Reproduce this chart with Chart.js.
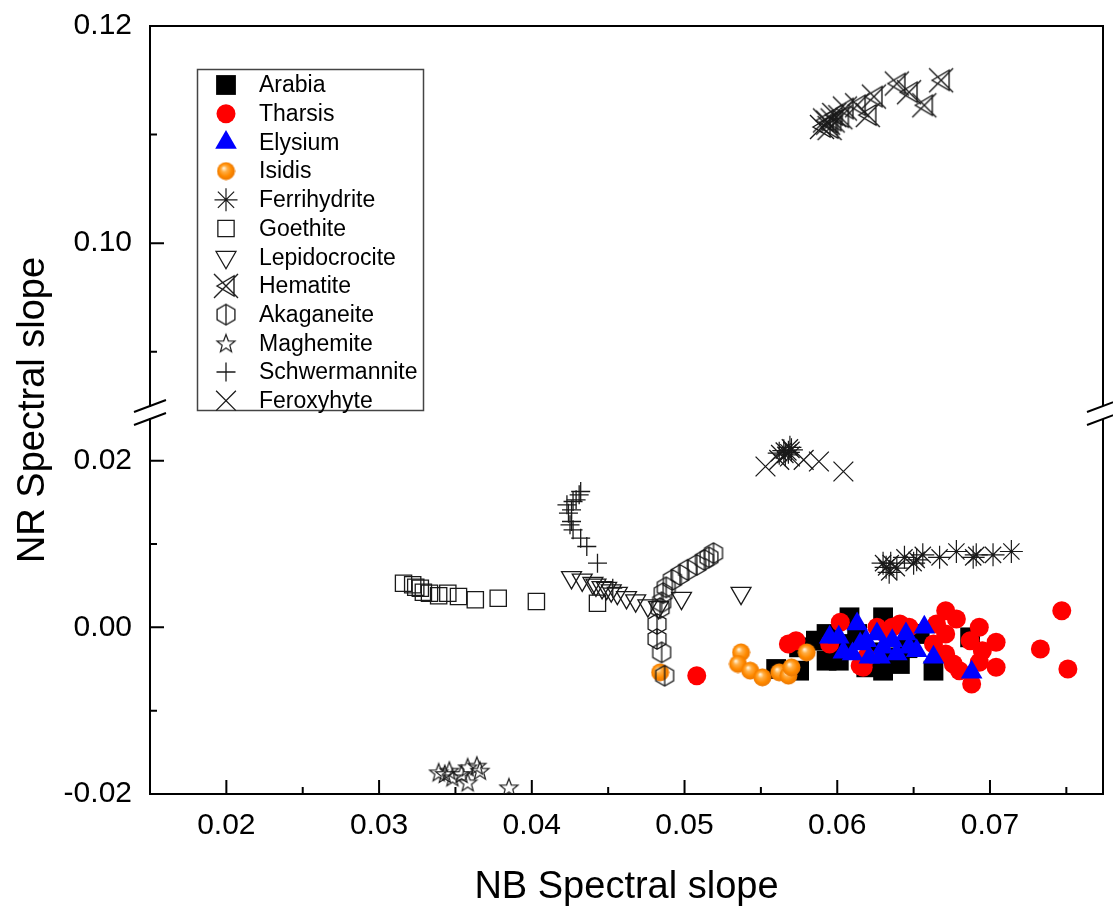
<!DOCTYPE html>
<html>
<head>
<meta charset="utf-8">
<script src="https://cdn.jsdelivr.net/npm/chart.js@4/dist/chart.umd.min.js"></script>
<style>
html,body{margin:0;padding:0;background:#fff;}
#wrap{width:1113px;height:907px;position:relative;}
</style>
</head>
<body>
<div id="wrap"><canvas id="c" width="1113" height="907"></canvas></div>
<script>
// ---------- data ----------
const seriesNames = ['Arabia','Tharsis','Elysium','Isidis','Ferrihydrite','Goethite','Lepidocrocite','Hematite','Akaganeite','Maghemite','Schwermannite','Feroxyhyte'];

const arabiaX = [0.0575,0.0560,0.0575,0.0593,0.0593,0.0608,0.0630,0.0601,0.0619,0.0630,0.0641,0.0663,0.0687,0.0654,0.0613,0.0586,0.0634,0.0605,0.0622,0.0646];
const arabiaY = [-0.0024,-0.0050,-0.0052,-0.0008,-0.0040,0.0012,0.0012,-0.0040,-0.0048,-0.0052,-0.0044,-0.0052,-0.0012,-0.0008,-0.0008,-0.0016,-0.0036,-0.0020,-0.0030,-0.0025];

const tharsisX = [0.0508,0.0568,0.0573,0.0602,0.0595,0.0615,0.0626,0.0641,0.0647,0.0671,0.0678,0.0665,0.0693,0.0704,0.0687,0.0671,0.0676,0.0693,0.0704,0.0688,0.0680,0.0747,0.0733,0.0751,0.0663,0.0695,0.0636,0.0630,0.0617,0.0619,0.0671];
const tharsisY = [-0.0058,-0.0020,-0.0016,0.0006,-0.0020,-0.0046,0.0000,0.0004,0.0000,0.0020,0.0010,0.0004,0.0000,-0.0018,-0.0016,-0.0032,-0.0044,-0.0042,-0.0048,-0.0068,-0.0052,0.0020,-0.0026,-0.0050,-0.0020,-0.0028,0.0000,-0.0006,-0.0048,-0.0036,-0.0008];

const elysiumX = [0.0595,0.0601,0.0613,0.0604,0.0610,0.0619,0.0626,0.0621,0.0630,0.0636,0.0645,0.0647,0.0657,0.0652,0.0663,0.0688,0.0628,0.0639,0.0615];
const elysiumY = [-0.0012,-0.0012,0.0004,-0.0030,-0.0032,-0.0016,-0.0008,-0.0036,-0.0024,-0.0016,-0.0008,-0.0024,0.0000,-0.0028,-0.0036,-0.0054,-0.0036,-0.0032,-0.0020];

const isidisX = [0.0484,0.0537,0.0535,0.0543,0.0551,0.0562,0.0568,0.0570,0.0580];
const isidisY = [-0.0054,-0.0030,-0.0044,-0.0052,-0.0060,-0.0054,-0.0058,-0.0048,-0.0030];

const ferriX = [0.0562,0.0565,0.0568,0.0570,0.0566,0.0569,0.0632,0.0635,0.0639,0.0644,0.0652,0.0656,0.0667,0.0678,0.0691,0.0702,0.0714,0.0634,0.0630,0.0650,0.0689];
const ferriY = [0.0209,0.0212,0.0210,0.0213,0.0207,0.0216,0.0072,0.0077,0.0071,0.0084,0.0081,0.0087,0.0084,0.0091,0.0087,0.0087,0.0091,0.0066,0.0077,0.0077,0.0084];

const goethiteX = [0.0316,0.0322,0.0324,0.0327,0.0329,0.0333,0.0339,0.0345,0.0352,0.0363,0.0378,0.0403,0.0443];
const goethiteY = [0.0053,0.0051,0.0048,0.0047,0.0042,0.0041,0.0038,0.0041,0.0037,0.0033,0.0035,0.0031,0.0029];

const lepidoX = [0.0426,0.0433,0.0440,0.0442,0.0446,0.0449,0.0452,0.0456,0.0462,0.0468,0.0476,0.0483,0.0498,0.0537];
const lepidoY = [0.0060,0.0057,0.0053,0.0051,0.0048,0.0047,0.0044,0.0041,0.0036,0.0032,0.0026,0.0024,0.0035,0.0041];

const hematiteX = [0.0668,0.0657,0.0647,0.0639,0.0624,0.0620,0.0613,0.0605,0.0598,0.0594,0.0590,0.0597,0.0602,0.0592,0.0595];
const hematiteY = [0.1150,0.1127,0.1139,0.1147,0.1135,0.1118,0.1127,0.1124,0.1118,0.1111,0.1107,0.1113,0.1116,0.1113,0.1106];

const akaX = [0.0519,0.0516,0.0513,0.0508,0.0502,0.0497,0.0492,0.0488,0.0486,0.0485,0.0484,0.0482,0.0482,0.0485,0.0487];
const akaY = [0.0089,0.0084,0.0081,0.0075,0.0069,0.0063,0.0057,0.0048,0.0041,0.0030,0.0023,0.0004,-0.0014,-0.0030,-0.0058];

const maghX = [0.0339,0.0343,0.0348,0.0354,0.0358,0.0364,0.0366,0.0358,0.0385,0.0346];
const maghY = [-0.0174,-0.0176,-0.0180,-0.0176,-0.0168,-0.0166,-0.0172,-0.0186,-0.0192,-0.0172];

const schwX = [0.0432,0.0431,0.0429,0.0427,0.0423,0.0426,0.0424,0.0426,0.0425,0.0427,0.0432,0.0436,0.0443,0.0453];
const schwY = [0.0163,0.0159,0.0153,0.0151,0.0147,0.0141,0.0137,0.0127,0.0123,0.0117,0.0107,0.0097,0.0077,0.0047];

const feroxX = [0.0553,0.0562,0.0569,0.0578,0.0588,0.0604];
const feroxY = [0.0193,0.0201,0.0205,0.0201,0.0199,0.0187];

// tick values
const xMajorTicks = [0.02,0.03,0.04,0.05,0.06,0.07];
const xMinorTicks = [0.025,0.035,0.045,0.055,0.065,0.075];
const yLowMajorTicks = [-0.02,0.00,0.02];
const yLowMinorTicks = [-0.01,0.01];
const yTopMajorTicks = [0.10,0.12];
const yTopMinorTicks = [0.09,0.11];

// ---------- styling helpers ----------
const FONT = "'Liberation Sans', Arial, Helvetica, sans-serif";
const INK = '#1a1a1a';

function makeCanvas(size, fn){
  const c = document.createElement('canvas');
  c.width = size; c.height = size;
  const g = c.getContext('2d');
  fn(g, size);
  return c;
}
const sphereImg = makeCanvas(19, (g,s)=>{
  const gr = g.createRadialGradient(s*0.38, s*0.34, 0.5, s/2, s/2, s/2);
  gr.addColorStop(0, '#fff2d9');
  gr.addColorStop(0.28, '#ffae45');
  gr.addColorStop(0.65, '#ff8a00');
  gr.addColorStop(1, '#e87400');
  g.fillStyle = gr;
  g.beginPath(); g.arc(s/2, s/2, s/2-0.5, 0, Math.PI*2); g.fill();
});
const hematiteImg = makeCanvas(28, (g,s)=>{
  g.strokeStyle = INK; g.lineWidth = 1.4;
  g.beginPath();
  g.moveTo(2,2); g.lineTo(26,26);
  g.moveTo(26,2); g.lineTo(2,26);
  g.moveTo(5,14); g.lineTo(22,4); g.lineTo(22,24); g.closePath();
  g.stroke();
});
const hexImg = makeCanvas(24, (g,s)=>{
  g.strokeStyle = INK; g.lineWidth = 1.3;
  const cx = s/2, cy = s/2, r = 10.3;
  g.beginPath();
  for (let k=0;k<6;k++){
    const a = -Math.PI/2 + k*Math.PI/3;
    const px = cx + r*Math.cos(a), py = cy + r*Math.sin(a);
    if (k===0) g.moveTo(px,py); else g.lineTo(px,py);
  }
  g.closePath();
  g.moveTo(cx, cy-r); g.lineTo(cx, cy+r);
  g.stroke();
});
const starImg = makeCanvas(22, (g,s)=>{
  g.strokeStyle = INK; g.lineWidth = 1.2;
  const cx = s/2, cy = s/2+0.8, ro = 9.5, ri = 4;
  g.beginPath();
  for (let k=0;k<10;k++){
    const a = -Math.PI/2 + k*Math.PI/5;
    const r = (k%2===0)? ro : ri;
    const px = cx + r*Math.cos(a), py = cy + r*Math.sin(a);
    if (k===0) g.moveTo(px,py); else g.lineTo(px,py);
  }
  g.closePath();
  g.stroke();
});

const pts = (xs, ys) => xs.map((v,i)=>({x:v, y:ys[i]}));
const CLEAR = 'rgba(0,0,0,0)';

const styles = [
  {data:pts(arabiaX,arabiaY),   axis:'y', pointStyle:'rect',     radius:14,  bg:'#000000', bc:'#000000', bw:0},
  {data:pts(tharsisX,tharsisY), axis:'y', pointStyle:'circle',   radius:9.5, bg:'#ff0000', bc:'#ff0000', bw:0},
  {data:pts(elysiumX,elysiumY), axis:'y', pointStyle:'triangle', radius:12.5,bg:'#0000ff', bc:'#0000ff', bw:0},
  {data:pts(isidisX,isidisY),   axis:'y', pointStyle:sphereImg,  radius:9,   bg:'#ff8a00', bc:'#ff8a00', bw:0},
  {data:pts(ferriX,ferriY),     axis:'y', pointStyle:'star',     radius:11.5,bg:CLEAR, bc:INK, bw:1.2},
  {data:pts(goethiteX,goethiteY), axis:'y', pointStyle:'rect',   radius:11.5,bg:CLEAR, bc:INK, bw:1.3},
  {data:pts(lepidoX,lepidoY),   axis:'y', pointStyle:'triangle', radius:11.5,bg:CLEAR, bc:INK, bw:1.3, rot:180},
  {data:pts(hematiteX,hematiteY), axis:'yTop', pointStyle:hematiteImg, radius:13, bg:CLEAR, bc:INK, bw:1.3},
  {data:pts(akaX,akaY),         axis:'y', pointStyle:hexImg,     radius:11,  bg:CLEAR, bc:INK, bw:1.3},
  {data:pts(maghX,maghY),       axis:'y', pointStyle:starImg,    radius:10,  bg:CLEAR, bc:INK, bw:1.2},
  {data:pts(schwX,schwY),       axis:'y', pointStyle:'cross',    radius:9.5, bg:CLEAR, bc:INK, bw:1.3},
  {data:pts(feroxX,feroxY),     axis:'y', pointStyle:'crossRot', radius:14,  bg:CLEAR, bc:INK, bw:1.3}
];

const datasets = styles.map((s,i)=>({
  label: seriesNames[i],
  data: s.data,
  yAxisID: s.axis,
  xAxisID: 'x',
  showLine: false,
  pointStyle: s.pointStyle,
  pointRadius: s.radius,
  pointHoverRadius: s.radius,
  pointBackgroundColor: s.bg,
  pointBorderColor: s.bc,
  pointBorderWidth: s.bw,
  pointRotation: s.rot || 0,
  order: -i
}));

const fmt = v => (Math.abs(v) < 1e-9 ? 0 : v).toFixed(2);

const decor = {
  id: 'decor',
  afterDraw(chart){
    const ctx = chart.ctx;
    const xs = chart.scales.x, yt = chart.scales.yTop, yb = chart.scales.y;
    const {left:L, right:R, top:T, bottom:B} = chart.chartArea;
    ctx.save();
    ctx.strokeStyle = '#000';
    ctx.lineWidth = 2;
    ctx.lineCap = 'butt';
    // top and right frame
    ctx.beginPath();
    ctx.moveTo(L-1, T); ctx.lineTo(R+1, T);
    ctx.moveTo(R, T); ctx.lineTo(R, yt.bottom);
    ctx.moveTo(R, yb.top); ctx.lineTo(R, B+1);
    ctx.stroke();
    // inward tick marks
    ctx.beginPath();
    xMajorTicks.forEach(v=>{const p=xs.getPixelForValue(v); ctx.moveTo(p,B); ctx.lineTo(p,B-14);});
    xMinorTicks.forEach(v=>{const p=xs.getPixelForValue(v); if(p<R-2){ctx.moveTo(p,B); ctx.lineTo(p,B-7);}});
    yLowMajorTicks.forEach(v=>{const p=yb.getPixelForValue(v); ctx.moveTo(L,p); ctx.lineTo(L+14,p);});
    yLowMinorTicks.forEach(v=>{const p=yb.getPixelForValue(v); ctx.moveTo(L,p); ctx.lineTo(L+7,p);});
    yTopMajorTicks.forEach(v=>{const p=yt.getPixelForValue(v); ctx.moveTo(L,p); ctx.lineTo(L+14,p);});
    yTopMinorTicks.forEach(v=>{const p=yt.getPixelForValue(v); ctx.moveTo(L,p); ctx.lineTo(L+7,p);});
    ctx.stroke();
    // axis break marks
    ctx.lineWidth = 2;
    ctx.beginPath();
    [L, R].forEach(x=>{
      [yt.bottom, yb.top].forEach(y=>{
        ctx.moveTo(x-16, y+6); ctx.lineTo(x+16, y-6);
      });
    });
    ctx.stroke();
    // axis titles
    ctx.fillStyle = '#000';
    ctx.font = '38px ' + FONT;
    ctx.textAlign = 'center';
    ctx.textBaseline = 'alphabetic';
    ctx.fillText('NB Spectral slope', (L+R)/2, 898);
    ctx.save();
    ctx.translate(44, (T+B)/2);
    ctx.rotate(-Math.PI/2);
    ctx.fillText('NR Spectral slope', 0, 0);
    ctx.restore();
    // legend
    const bx = 197.5, by = 69.5, bw = 226, bh = 341;
    ctx.strokeStyle = '#444';
    ctx.lineWidth = 1.5;
    ctx.strokeRect(bx, by, bw, bh);
    ctx.font = '23px ' + FONT;
    ctx.textAlign = 'left';
    ctx.textBaseline = 'middle';
    chart.data.datasets.forEach((ds,i)=>{
      const cy = 85 + i*28.7;
      const cx = 226;
      ctx.save();
      ctx.fillStyle = ds.pointBackgroundColor;
      ctx.strokeStyle = ds.pointBorderColor;
      ctx.lineWidth = ds.pointBorderWidth;
      Chart.helpers.drawPoint(ctx, {pointStyle: ds.pointStyle, rotation: ds.pointRotation, radius: ds.pointRadius, borderWidth: ds.pointBorderWidth}, cx, cy);
      ctx.restore();
      ctx.fillStyle = '#000';
      ctx.fillText(ds.label, 259, cy + 1);
    });
    ctx.restore();
  }
};

const zeroPad = s => { s.paddingTop = 0; s.paddingBottom = 0; s.paddingLeft = 0; s.paddingRight = 0; };
const tickFont = {family: FONT, size: 30};
const yCommon = {
  type: 'linear', position: 'left', stack: 'ys',
  grid: {display: false, drawTicks: false},
  border: {display: true, color: '#000', width: 2},
  ticks: {font: tickFont, color: '#000', padding: 18, autoSkip: false, callback: fmt},
  afterFit: s => { s.width = 150; zeroPad(s); }
};

new Chart(document.getElementById('c'), {
  type: 'scatter',
  data: {datasets},
  options: {
    responsive: false,
    animation: false,
    events: [],
    layout: {autoPadding: false, padding: {left: 0, right: 10, top: 26, bottom: 0}},
    plugins: {legend: {display: false}, tooltip: {enabled: false}},
    scales: {
      x: {
        type: 'linear', position: 'bottom', min: 0.015, max: 0.0774,
        grid: {display: false, drawTicks: false},
        border: {display: true, color: '#000', width: 2},
        ticks: {font: tickFont, color: '#000', padding: 14, autoSkip: false, maxRotation: 0, callback: fmt},
        afterBuildTicks: s => { s.ticks = xMajorTicks.map(v=>({value:v})); },
        afterFit: s => { s.height = 113; zeroPad(s); }
      },
      yTop: Object.assign({}, yCommon, {
        min: 0.085, max: 0.12, stackWeight: 380, weight: 3,
        afterBuildTicks: s => { s.ticks = yTopMajorTicks.map(v=>({value:v})); }
      }),
      ySpacer: {
        type: 'linear', position: 'left', stack: 'ys', stackWeight: 13, weight: 2,
        display: false, min: 0, max: 1,
        afterFit: s => { s.width = 150; zeroPad(s); }
      },
      y: Object.assign({}, yCommon, {
        min: -0.02, max: 0.025, stackWeight: 375, weight: 1,
        afterBuildTicks: s => { s.ticks = yLowMajorTicks.map(v=>({value:v})); }
      })
    }
  },
  plugins: [decor]
});
</script>
</body>
</html>
